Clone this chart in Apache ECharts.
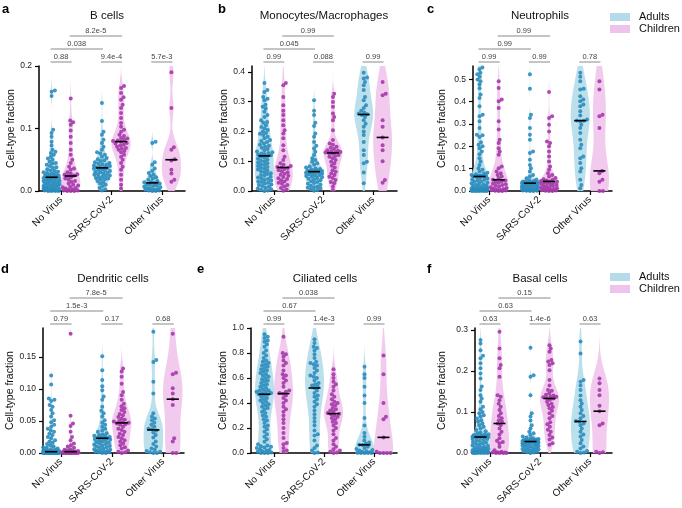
<!DOCTYPE html>
<html><head><meta charset="utf-8">
<script src="https://cdn.jsdelivr.net/npm/echarts@6/dist/echarts.min.js"></script>
<style>html,body{margin:0;padding:0;background:#fff}#c{width:682px;height:508px}</style>
</head><body><div id="c"></div>
<script>
const categories = ['No Virus', 'SARS-CoV-2', 'Other Virus'];
const groupNames = ['Adults', 'Children'];
const panelTitles = ['B cells', 'Monocytes/Macrophages', 'Neutrophils', 'Dendritic cells', 'Ciliated cells', 'Basal cells'];
const panelLetters = ['a', 'b', 'c', 'd', 'e', 'f'];
const yMaxes = [0.2, 0.42, 0.56, 0.195, 1.0, 0.305];
const yTickValues = [[0, 0.1, 0.2], [0, 0.1, 0.2, 0.3, 0.4], [0, 0.1, 0.2, 0.3, 0.4, 0.5], [0, 0.05, 0.1, 0.15], [0, 0.2, 0.4, 0.6, 0.8, 1.0], [0, 0.1, 0.2, 0.3]];
const yTickDecimals = [1, 1, 1, 2, 1, 1];
const yAxisName = 'Cell-type fraction';

// ---- B cells ----
const bCellsAdults = [
  [0.161,0.159,0.152,0.098,0.093,0.087,0.079,0.073,0.066,0.063,0.061,0.058,0.055,0.052,0.050,0.047,0.045,0.044,0.042,0.040,0.038,0.037,0.035,0.033,0.032,0.031,0.030,0.029,0.028,0.027,0.026,0.025,0.025,0.024,0.023,0.023,0.022,0.021,0.021,0.020,0.019,0.019,0.018,0.017,0.016,0.016,0.015,0.014,0.013,0.013,0.012,0.011,0.010,0.010,0.009,0.008,0.008,0.007,0.006,0.006,0.005,0.004,0.004,0.003,0.003,0.002,0.002,0.001,0.001,0.001,0,0,0,0],
  [0.141,0.112,0.095,0.090,0.082,0.077,0.071,0.066,0.062,0.060,0.058,0.055,0.053,0.051,0.049,0.048,0.046,0.045,0.044,0.043,0.042,0.041,0.040,0.039,0.038,0.038,0.037,0.036,0.035,0.034,0.033,0.032,0.031,0.030,0.029,0.028,0.027,0.026,0.025,0.024,0.023,0.022,0.021,0.020,0.019,0.018,0.016,0.014,0.012,0.010,0.008,0.005,0.003,0.001],
  [0.079,0.077,0.046,0.042,0.036,0.032,0.029,0.026,0.024,0.022,0.020,0.018,0.016,0.015,0.014,0.013,0.012,0.011,0.010,0.009,0.008,0.007,0.006,0.005,0.004,0.003,0.002,0.002,0.001,0.001,0,0]
];
const bCellsChildren = [
  [0.148,0.113,0.110,0.106,0.097,0.087,0.077,0.066,0.058,0.050,0.045,0.039,0.036,0.034,0.030,0.028,0.027,0.026,0.025,0.024,0.022,0.020,0.018,0.016,0.015,0.012,0.010,0.009,0.007,0.006,0.005,0.004,0.003,0.002,0.001,0.001,0,0,0],
  [0.168,0.165,0.157,0.150,0.146,0.138,0.133,0.125,0.117,0.109,0.103,0.098,0.095,0.090,0.088,0.085,0.084,0.082,0.081,0.080,0.079,0.077,0.076,0.074,0.073,0.071,0.069,0.068,0.066,0.064,0.062,0.058,0.055,0.050,0.045,0.039,0.034,0.026,0.018,0.010,0.004],
  [0.190,0.133,0.070,0.066,0.051,0.049,0.034,0.028,0.018,0.015]
];
const bCellsMedians = [[0.022, 0.024], [0.037, 0.079], [0.013, 0.050]];
const bCellsPValues = ['0.88', '9.4e-4', '5.7e-3', '0.038', '8.2e-5'];

// ---- Monocytes/Macrophages ----
const monoAdults = [
  [0.363,0.339,0.333,0.316,0.310,0.305,0.290,0.283,0.277,0.266,0.255,0.249,0.238,0.232,0.229,0.221,0.215,0.210,0.205,0.200,0.195,0.192,0.188,0.182,0.177,0.171,0.168,0.165,0.160,0.155,0.152,0.149,0.145,0.141,0.137,0.133,0.130,0.128,0.126,0.124,0.122,0.120,0.118,0.115,0.112,0.108,0.105,0.102,0.099,0.096,0.093,0.090,0.087,0.084,0.081,0.078,0.075,0.072,0.069,0.066,0.063,0.060,0.057,0.054,0.051,0.048,0.045,0.042,0.040,0.037,0.035,0.032,0.030,0.028,0.025,0.022,0.020,0.017,0.014,0.011,0.008,0.006,0.004,0.002,0],
  [0.305,0.270,0.255,0.229,0.218,0.193,0.182,0.165,0.152,0.143,0.132,0.121,0.110,0.104,0.098,0.093,0.088,0.082,0.079,0.076,0.074,0.072,0.070,0.069,0.068,0.067,0.066,0.065,0.063,0.061,0.060,0.058,0.056,0.054,0.052,0.050,0.048,0.046,0.044,0.041,0.039,0.036,0.033,0.030,0.027,0.024,0.021,0.018,0.015,0.013,0.011,0.009,0.006,0.003,0.001],
  [0.397,0.381,0.378,0.366,0.355,0.339,0.316,0.305,0.288,0.279,0.270,0.264,0.260,0.258,0.255,0.249,0.238,0.226,0.216,0.200,0.188,0.165,0.137,0.121,0.098,0.093,0.062,0.026]
];
const monoChildren = [
  [0.363,0.355,0.316,0.288,0.270,0.255,0.238,0.221,0.204,0.193,0.177,0.154,0.137,0.115,0.104,0.093,0.088,0.084,0.081,0.079,0.077,0.074,0.070,0.066,0.063,0.058,0.055,0.051,0.047,0.043,0.040,0.036,0.032,0.028,0.024,0.020,0.015,0.010,0.005,0.001],
  [0.327,0.316,0.299,0.283,0.260,0.249,0.238,0.204,0.171,0.160,0.155,0.149,0.145,0.141,0.137,0.135,0.133,0.131,0.130,0.129,0.128,0.125,0.121,0.118,0.115,0.110,0.104,0.098,0.093,0.085,0.079,0.070,0.065,0.059,0.054,0.048,0.044,0.037,0.030,0.026,0.015,0.003],
  [0.366,0.327,0.322,0.238,0.216,0.180,0.154,0.137,0.100,0.037,0.028]
];
const monoMedians = [[0.118, 0.079], [0.065, 0.128], [0.257, 0.180]];
const monoPValues = ['0.99', '0.088', '0.99', '0.045', '0.99'];

// ---- Neutrophils ----
const neutAdults = [
  [0.553,0.545,0.530,0.523,0.512,0.500,0.492,0.477,0.460,0.432,0.417,0.380,0.342,0.335,0.312,0.282,0.252,0.250,0.242,0.218,0.207,0.200,0.192,0.177,0.165,0.147,0.132,0.117,0.102,0.095,0.087,0.082,0.078,0.075,0.072,0.070,0.068,0.067,0.066,0.065,0.062,0.059,0.056,0.053,0.050,0.047,0.044,0.041,0.038,0.035,0.032,0.030,0.027,0.025,0.022,0.020,0.018,0.016,0.014,0.012,0.011,0.010,0.009,0.008,0.007,0.006,0.005,0.004,0.003,0.003,0.002,0.002,0.001,0.001,0.001,0,0,0,0,0],
  [0.523,0.458,0.342,0.327,0.282,0.252,0.230,0.177,0.170,0.140,0.117,0.102,0.087,0.072,0.065,0.057,0.052,0.048,0.045,0.043,0.041,0.040,0.039,0.038,0.037,0.036,0.036,0.035,0.034,0.032,0.031,0.029,0.028,0.026,0.025,0.023,0.021,0.020,0.018,0.016,0.015,0.013,0.012,0.010,0.009,0.008,0.006,0.005,0.004,0.003,0.002,0.001,0.001,0,0],
  [0.530,0.512,0.492,0.458,0.455,0.425,0.410,0.402,0.387,0.380,0.357,0.338,0.320,0.316,0.315,0.312,0.297,0.282,0.260,0.230,0.207,0.192,0.155,0.147,0.125,0.102,0.087,0.050,0.027,0.012]
];
const neutChildren = [
  [0.492,0.462,0.410,0.402,0.372,0.312,0.275,0.230,0.215,0.192,0.177,0.162,0.110,0.102,0.087,0.080,0.072,0.065,0.057,0.050,0.047,0.044,0.040,0.037,0.033,0.030,0.027,0.024,0.020,0.017,0.014,0.011,0.009,0.007,0.005,0.003,0.002,0.001,0,0],
  [0.443,0.335,0.327,0.297,0.267,0.222,0.215,0.200,0.177,0.155,0.132,0.110,0.095,0.080,0.072,0.065,0.058,0.053,0.050,0.047,0.045,0.043,0.041,0.039,0.037,0.035,0.032,0.030,0.027,0.025,0.022,0.020,0.017,0.015,0.012,0.010,0.008,0.006,0.005,0.003,0.002,0.001,0,0],
  [0.492,0.455,0.342,0.335,0.282,0.090,0.080,0.050,0.042,0,0]
];
const neutMedians = [[0.065, 0.050], [0.035, 0.043], [0.315, 0.090]];
const neutPValues = ['0.99', '0.99', '0.78', '0.99', '0.99'];

// ---- Dendritic cells ----
const dendAdults = [
  [0.121,0.107,0.085,0.083,0.081,0.075,0.072,0.067,0.062,0.057,0.051,0.048,0.044,0.041,0.038,0.035,0.033,0.030,0.028,0.025,0.023,0.020,0.018,0.016,0.014,0.012,0.010,0.009,0.008,0.007,0.006,0.005,0.004,0.004,0.003,0.003,0.003,0.002,0.002,0.002,0.002,0.002,0.0018,0.0015,0.0015,0.0012,0.001,0.001,0.001,0.0008,0.0008,0.0005,0.0005,0.0003,0,0,0,0,0,0,0,0,0,0,0,0,0,0,0,0,0,0,0,0,0,0,0,0,0,0],
  [0.151,0.129,0.114,0.104,0.098,0.088,0.083,0.072,0.066,0.062,0.057,0.051,0.047,0.044,0.041,0.038,0.035,0.033,0.031,0.029,0.028,0.027,0.026,0.025,0.024,0.024,0.023,0.023,0.022,0.021,0.020,0.019,0.018,0.017,0.016,0.015,0.014,0.013,0.012,0.011,0.010,0.009,0.008,0.007,0.006,0.005,0.004,0.003,0.003,0.002,0.002,0.001,0.001,0,0],
  [0.189,0.145,0.142,0.111,0.093,0.062,0.057,0.054,0.051,0.047,0.044,0.041,0.038,0.037,0.035,0.032,0.028,0.024,0.018,0.014,0.010,0.007,0.005,0.003,0.002,0.001,0,0]
];
const dendChildren = [
  [0.186,0.058,0.046,0.042,0.033,0.025,0.020,0.015,0.012,0.010,0.008,0.006,0.005,0.004,0.003,0.003,0.002,0.002,0.002,0.002,0.0018,0.0015,0.0012,0.001,0.001,0.0008,0.0005,0.0003,0,0,0,0,0,0,0,0,0,0,0,0],
  [0.132,0.127,0.119,0.108,0.095,0.090,0.083,0.077,0.073,0.070,0.067,0.064,0.061,0.059,0.056,0.054,0.052,0.050,0.049,0.048,0.047,0.046,0.045,0.044,0.041,0.038,0.036,0.033,0.030,0.028,0.025,0.023,0.020,0.018,0.015,0.012,0.009,0.007,0.004,0.002,0.001,0],
  [0.186,0.125,0.123,0.101,0.093,0.084,0.075,0.023,0.018,0,0]
];
const dendMedians = [[0.002, 0.002], [0.023, 0.047], [0.036, 0.084]];
const dendPValues = ['0.79', '0.17', '0.68', '1.5e-3', '7.8e-5'];

// ---- Ciliated cells ----
const ciliatedAdults = [
  [0.95,0.93,0.92,0.90,0.89,0.87,0.85,0.82,0.80,0.78,0.76,0.74,0.73,0.72,0.71,0.70,0.69,0.68,0.67,0.66,0.65,0.64,0.63,0.62,0.61,0.60,0.59,0.58,0.57,0.56,0.55,0.54,0.53,0.52,0.51,0.50,0.50,0.49,0.49,0.48,0.48,0.47,0.47,0.46,0.45,0.44,0.43,0.42,0.41,0.40,0.39,0.38,0.37,0.36,0.35,0.33,0.32,0.30,0.29,0.27,0.26,0.24,0.22,0.21,0.19,0.17,0.15,0.13,0.11,0.09,0.07,0.06,0.055,0.05,0.045,0.04,0.03,0.025,0.02,0.015,0.01,0.005,0,0,0],
  [0.91,0.88,0.85,0.84,0.82,0.79,0.76,0.73,0.72,0.71,0.70,0.68,0.66,0.64,0.62,0.61,0.60,0.58,0.56,0.55,0.54,0.53,0.52,0.50,0.48,0.46,0.45,0.43,0.41,0.39,0.37,0.34,0.31,0.28,0.25,0.22,0.18,0.15,0.14,0.10,0.06,0.04,0.02,0.005,0],
  [0.69,0.63,0.60,0.53,0.46,0.40,0.28,0.22,0.16,0.13,0.10,0.085,0.075,0.066,0.064,0.05,0.04,0.032,0.025,0.02,0.015,0.01,0.006,0.003,0,0,0,0]
];
const ciliatedChildren = [
  [0.93,0.80,0.79,0.77,0.74,0.72,0.70,0.66,0.63,0.62,0.60,0.58,0.56,0.53,0.50,0.49,0.48,0.475,0.46,0.44,0.42,0.40,0.37,0.35,0.33,0.30,0.27,0.24,0.20,0.16,0.12,0.08,0.07,0.04,0.02,0.01],
  [0.67,0.63,0.60,0.57,0.55,0.53,0.50,0.47,0.45,0.43,0.41,0.40,0.39,0.38,0.36,0.35,0.34,0.33,0.32,0.315,0.31,0.30,0.29,0.28,0.27,0.25,0.24,0.22,0.20,0.18,0.15,0.12,0.10,0.07,0.05,0.03,0.02,0.01,0.005,0],
  [0.78,0.63,0.40,0.29,0.27,0.125,0.01,0,0,0,0]
];
const ciliatedMedians = [[0.47, 0.475], [0.52, 0.315], [0.065, 0.125]];
const ciliatedPValues = ['0.99', '1.4e-3', '0.99', '0.67', '0.038'];

// ---- Basal cells ----
const basalAdults = [
  [0.276,0.267,0.251,0.237,0.231,0.219,0.207,0.194,0.182,0.162,0.154,0.141,0.133,0.125,0.113,0.107,0.100,0.097,0.092,0.089,0.084,0.080,0.076,0.072,0.068,0.064,0.060,0.056,0.053,0.050,0.048,0.046,0.045,0.044,0.043,0.042,0.041,0.041,0.040,0.040,0.039,0.039,0.039,0.038,0.037,0.035,0.034,0.032,0.030,0.029,0.027,0.025,0.024,0.022,0.020,0.019,0.017,0.016,0.014,0.013,0.012,0.011,0.010,0.009,0.008,0.007,0.006,0.005,0.005,0.004,0.004,0.003,0.003,0.002,0.002,0.002,0.001,0.001,0.001,0,0,0,0,0,0],
  [0.257,0.190,0.186,0.141,0.097,0.089,0.079,0.068,0.060,0.052,0.048,0.044,0.040,0.038,0.036,0.035,0.034,0.033,0.032,0.031,0.031,0.030,0.030,0.029,0.029,0.028,0.028,0.028,0.027,0.026,0.025,0.024,0.023,0.022,0.021,0.020,0.019,0.018,0.017,0.016,0.015,0.014,0.012,0.011,0.010,0.009,0.008,0.007,0.006,0.005,0.004,0.003,0.002,0.001,0],
  [0.272,0.243,0.178,0.174,0.165,0.154,0.140,0.129,0.121,0.113,0.105,0.097,0.090,0.085,0.078,0.076,0.072,0.068,0.060,0.052,0.045,0.040,0.032,0.024,0.016,0.011,0.005,0.003,0.001,0]
];
const basalChildren = [
  [0.296,0.255,0.231,0.215,0.207,0.186,0.141,0.137,0.129,0.120,0.113,0.105,0.097,0.090,0.085,0.080,0.076,0.072,0.068,0.060,0.052,0.045,0.036,0.030,0.027,0.024,0.015,0.007,0.003,0.002,0.001,0.001,0,0,0,0],
  [0.263,0.255,0.247,0.227,0.223,0.219,0.215,0.202,0.178,0.165,0.154,0.152,0.146,0.142,0.140,0.138,0.137,0.136,0.134,0.133,0.130,0.125,0.120,0.117,0.112,0.109,0.103,0.097,0.090,0.085,0.075,0.070,0.064,0.057,0.052,0.044,0.038,0.033,0.024,0.020],
  [0.182,0.170,0.154,0.141,0.115,0.102,0.072,0.068,0.003,0.002,0]
];
const basalMedians = [[0.039, 0.072], [0.028, 0.133], [0.077, 0.102]];
const basalPValues = ['0.63', '1.4e-6', '0.63', '0.63', '0.15'];

const panelAdults = [bCellsAdults, monoAdults, neutAdults, dendAdults, ciliatedAdults, basalAdults];
const panelChildren = [bCellsChildren, monoChildren, neutChildren, dendChildren, ciliatedChildren, basalChildren];
const panelMedians = [bCellsMedians, monoMedians, neutMedians, dendMedians, ciliatedMedians, basalMedians];
const panelPValues = [bCellsPValues, monoPValues, neutPValues, dendPValues, ciliatedPValues, basalPValues];

// ---- layout / style (not data) ----
const FONT = 'Liberation Sans, Arial, Helvetica, sans-serif';
const gridBoxes = [
  {left: 39, top: 66, width: 146}, {left: 252, top: 66, width: 145}, {left: 473, top: 66, width: 139},
  {left: 43, top: 328, width: 141}, {left: 251, top: 328, width: 146}, {left: 475, top: 328, width: 137}
];
const GRID_H = 125;
const xRanges = [[-0.44, 2.46], [-0.44, 2.48], [-0.32, 2.44], [-0.35, 2.41], [-0.46, 2.46], [-0.3, 2.44]];
const nameGaps = [19, 20, 25, 24, 20, 27];
const titlePos = [[107, 16], [324, 16], [540, 16], [113, 279], [325, 279], [540, 279]];
const letterPos = [[2, 3], [218, 3], [427, 3], [1, 263], [197, 263], [427, 263]];
const groupOffset = [-0.19, 0.19];
const violinColors = ['#b5dbea', '#efc4ec'];
const dotColors = ['#2a8cbc', '#a437a8'];
const bracketLevels = [4, 17, 30];
// bracket pairs: [cat1, group1, cat2, group2, level]
const bracketPairs = [[0,0,0,1,0],[1,0,1,1,0],[2,0,2,1,0],[0,0,1,0,1],[0,1,1,1,2]];

function quantile(sorted, q) {
  const pos = (sorted.length - 1) * q, lo = Math.floor(pos), hi = Math.ceil(pos);
  return sorted[lo] + (sorted[hi] - sorted[lo]) * (pos - lo);
}
function violinProfile(values, yMax) {
  const n = values.length;
  const s = values.slice().sort((a, b) => a - b);
  const mean = s.reduce((a, b) => a + b, 0) / n;
  const sd = Math.sqrt(s.reduce((a, b) => a + (b - mean) * (b - mean), 0) / (n - 1));
  const iqr = quantile(s, 0.75) - quantile(s, 0.25);
  let spread = Math.min(sd, iqr / 1.34);
  if (!(spread > 0)) spread = sd;
  let h = 0.9 * spread * Math.pow(n, -0.2);
  h = Math.max(h, yMax * 0.02);
  const lo = Math.max(0, s[0] - 3 * h), hi = Math.min(yMax, s[n - 1] + 3 * h);
  const steps = 80, prof = [];
  let maxD = 0;
  for (let i = 0; i <= steps; i++) {
    const y = lo + (hi - lo) * i / steps;
    let d = 0;
    for (const v of s) { const z = (y - v) / h; d += Math.exp(-0.5 * z * z); }
    prof.push([y, d]); if (d > maxD) maxD = d;
  }
  return prof.map(p => [p[0], p[1] / maxD]);
}
function swarm(values, yScale, maxOff, dist) {
  const order = values.map((v, i) => i).sort((a, b) => values[a] - values[b]);
  const placed = [], offs = new Array(values.length);
  for (const i of order) {
    const y = values[i] * yScale;
    const near = placed.filter(p => Math.abs(p.y - y) < dist);
    const cands = [0];
    near.forEach(p => { const dx = Math.sqrt(dist * dist - (p.y - y) * (p.y - y)); cands.push(p.x + dx + 0.01, p.x - dx - 0.01); });
    cands.sort((a, b) => Math.abs(a) - Math.abs(b));
    let best = null;
    for (const c of cands) {
      if (Math.abs(c) > maxOff) continue;
      if (near.every(p => (p.x - c) * (p.x - c) + (p.y - y) * (p.y - y) >= dist * dist - 1e-6)) { best = c; break; }
    }
    if (best === null) {
      let bestScore = -1;
      for (let c = -maxOff; c <= maxOff + 1e-9; c += 0.5) {
        let sc = Infinity;
        near.forEach(p => { sc = Math.min(sc, (p.x - c) * (p.x - c) + (p.y - y) * (p.y - y)); });
        if (sc > bestScore) { bestScore = sc; best = c; }
      }
    }
    offs[i] = best; placed.push({x: best, y: y});
  }
  return offs;
}

const grids = [], xAxes = [], yAxes = [], series = [], graphics = [];
for (let p = 0; p < 6; p++) {
  const gb = gridBoxes[p], yMax = yMaxes[p], xr = xRanges[p];
  grids.push({left: gb.left, top: gb.top, width: gb.width, height: GRID_H, containLabel: false});
  xAxes.push({
    gridIndex: p, type: 'value', min: xr[0], max: xr[1],
    axisLine: {show: true, onZero: false, lineStyle: {color: '#000', width: 1.5}},
    axisTick: {show: true, customValues: [0, 1, 2], length: 4, lineStyle: {color: '#000', width: 1.2}},
    axisLabel: {customValues: [0, 1, 2], formatter: v => categories[Math.round(v)], rotate: 45, fontSize: 10, color: '#111', margin: 7, fontFamily: FONT},
    splitLine: {show: false}
  });
  const dec = yTickDecimals[p];
  yAxes.push({
    gridIndex: p, type: 'value', min: 0, max: yMax,
    axisLine: {show: true, onZero: false, lineStyle: {color: '#000', width: 1.5}},
    axisTick: {show: true, customValues: yTickValues[p], length: 4, lineStyle: {color: '#000', width: 1.2}},
    axisLabel: {customValues: yTickValues[p], formatter: v => v.toFixed(dec), fontSize: 8.5, color: '#222', margin: 7, fontFamily: FONT},
    splitLine: {show: false},
    name: yAxisName, nameLocation: 'middle', nameGap: nameGaps[p],
    nameTextStyle: {fontSize: 10.5, color: '#111', fontFamily: FONT}
  });
  const xPx = gb.width / (xr[1] - xr[0]);
  const yPx = GRID_H / yMax;
  const groupsData = [panelAdults[p], panelChildren[p]];
  for (let g = 0; g < 2; g++) {
    const profiles = groupsData[g].map(vals => violinProfile(vals, yMax));
    series.push({
      type: 'custom', xAxisIndex: p, yAxisIndex: p, clip: false, z: 1, silent: true,
      data: [0, 1, 2].map(c => [c + groupOffset[g], 0]),
      encode: {x: 0, y: 1},
      renderItem: (params, api) => {
        const c = params.dataIndex, cx = api.value(0), prof = profiles[c];
        const w = 0.19;
        const pts = [];
        prof.forEach(q => pts.push(api.coord([cx + w * q[1], q[0]])));
        for (let i = prof.length - 1; i >= 0; i--) pts.push(api.coord([cx - w * prof[i][1], prof[i][0]]));
        return {type: 'polygon', shape: {points: pts, smooth: 0}, style: {fill: violinColors[g], opacity: 0.9}};
      }
    });
    const pts = [];
    groupsData[g].forEach((vals, c) => {
      const offs = swarm(vals, yPx, 8, 3.5);
      vals.forEach((v, i) => pts.push([c + groupOffset[g] + offs[i] / xPx, v]));
    });
    series.push({
      type: 'scatter', xAxisIndex: p, yAxisIndex: p, clip: false, z: 3, silent: true,
      symbolSize: 4, data: pts,
      itemStyle: {color: dotColors[g], opacity: 0.9}
    });
  }
  // medians
  const med = [];
  panelMedians[p].forEach((pair, c) => pair.forEach((m, g) => med.push([c + groupOffset[g], m])));
  series.push({
    type: 'custom', xAxisIndex: p, yAxisIndex: p, clip: false, z: 5, silent: true,
    data: med, encode: {x: 0, y: 1},
    renderItem: (params, api) => {
      const cx = api.value(0), m = api.value(1);
      const a = api.coord([cx - 0.12, m]), b = api.coord([cx + 0.12, m]);
      return {type: 'line', shape: {x1: a[0], y1: a[1], x2: b[0], y2: b[1]}, style: {stroke: '#000', lineWidth: 1.6}};
    }
  });
  // brackets
  const pv = panelPValues[p];
  series.push({
    type: 'custom', xAxisIndex: p, yAxisIndex: p, clip: false, z: 5, silent: true,
    data: bracketPairs.map(b => [b[0] + groupOffset[b[1]], yMax, b[2] + groupOffset[b[3]], b[4]]),
    encode: {x: [0, 2], y: 1},
    renderItem: (params, api) => {
      const a = api.coord([api.value(0), api.value(1)]), b = api.coord([api.value(2), api.value(1)]);
      const y = a[1] - bracketLevels[api.value(3)];
      return {type: 'group', children: [
        {type: 'line', shape: {x1: a[0] - 1, y1: y, x2: b[0] + 1, y2: y}, style: {stroke: '#8a8a8a', lineWidth: 1}},
        {type: 'text', style: {text: pv[params.dataIndex], x: (a[0] + b[0]) / 2, y: y - 1.5, align: 'center', verticalAlign: 'bottom', fontSize: 7.5, fill: '#444', fontFamily: FONT}}
      ]};
    }
  });
  graphics.push({type: 'text', x: titlePos[p][0], y: titlePos[p][1], style: {text: panelTitles[p], fontSize: 11.5, fill: '#111', fontFamily: FONT, align: 'center', verticalAlign: 'middle'}});
  graphics.push({type: 'text', x: letterPos[p][0], y: letterPos[p][1], style: {text: panelLetters[p], fontSize: 13, fontWeight: 'bold', fill: '#000', fontFamily: FONT}});
}
// legends
[[13, 25], [273, 285]].forEach(ys => {
  ys.forEach((yy, g) => {
    graphics.push({type: 'rect', shape: {x: 610, y: yy, width: 20, height: 8}, style: {fill: violinColors[g]}});
    graphics.push({type: 'text', x: 639, y: yy + 4, style: {text: groupNames[g], fontSize: 11, fill: '#111', fontFamily: FONT, verticalAlign: 'middle'}});
  });
});

const chart = echarts.init(document.getElementById('c'), null, {renderer: 'canvas'});
chart.setOption({
  animation: false,
  backgroundColor: '#fff',
  grid: grids, xAxis: xAxes, yAxis: yAxes, series: series, graphic: graphics
});
</script></body></html>
